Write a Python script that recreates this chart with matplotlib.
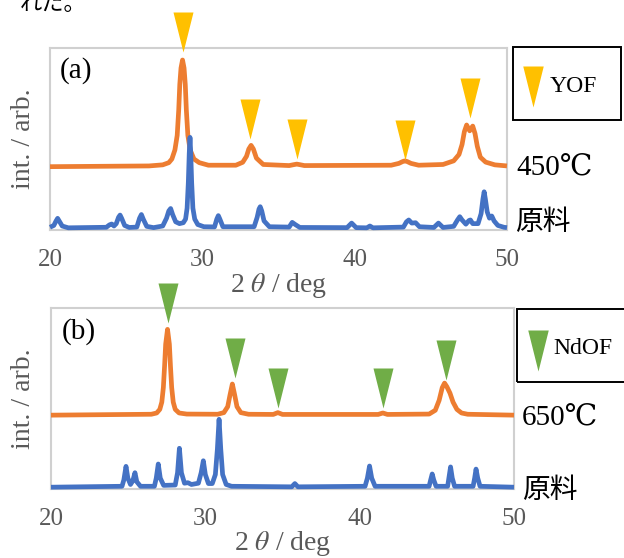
import matplotlib
matplotlib.use("Agg")
import matplotlib.pyplot as plt
from matplotlib.path import Path
from matplotlib.lines import Line2D
from matplotlib.patches import Rectangle

plt.rcParams["mathtext.fontset"] = "stix"

# ---------------- data ----------------
ticks = [20, 30, 40, 50]

# panel (a)  YOF / 450C   (2theta, intensity)
orange_a = [(20.0, 34.8), (26.5, 35.2), (27.4, 35.8), (27.8, 37.0), (28.0, 39.0),
            (28.2, 44), (28.35, 52), (28.45, 66), (28.52, 80), (28.6, 89),
            (28.7, 93.4), (28.8, 89), (28.88, 80), (28.95, 66), (29.05, 52),
            (29.2, 44), (29.45, 39), (29.8, 37), (30.4, 35.6), (32.2, 35.6),
            (32.65, 37.2), (32.9, 40.5), (33.05, 44.5), (33.2, 46.5), (33.35, 44.5),
            (33.55, 39.5), (34.0, 36.0), (35.7, 35.4), (36.0, 35.9), (36.2, 36.2),
            (36.4, 35.9), (36.7, 35.4), (42.4, 35.6), (42.9, 36.6), (43.15, 37.6),
            (43.3, 38.0), (43.45, 37.6), (43.7, 36.6), (44.2, 35.6), (45.8, 36.0),
            (46.5, 38.0), (46.85, 41.5), (47.05, 47), (47.2, 54), (47.35, 57.7),
            (47.55, 54.5), (47.75, 57.1), (47.9, 53), (48.05, 46), (48.25, 40),
            (48.6, 37.3), (49.2, 35.8), (50.0, 35.2)]

blue_a = [(20.0, 1.5), (20.25, 2.5), (20.4, 5), (20.5, 6.4), (20.6, 5),
          (20.8, 2.2), (21.2, 1.2), (23.7, 1.5), (23.9, 2.8), (24.05, 3.3),
          (24.2, 2.2), (24.35, 3.5), (24.5, 7), (24.6, 8.2), (24.7, 6.5),
          (24.9, 2.5), (25.2, 1.4), (25.7, 1.6), (25.88, 6.5), (26.0, 8.5),
          (26.12, 6), (26.35, 2), (26.8, 1.3), (27.4, 2.2), (27.65, 6.5),
          (27.8, 10.5), (27.92, 11.8), (28.05, 8.5), (28.25, 4.5), (28.5, 3.5),
          (28.75, 4), (28.9, 6), (29.0, 12), (29.08, 26), (29.14, 42),
          (29.19, 50.9), (29.24, 42), (29.3, 26), (29.38, 12), (29.5, 6),
          (29.7, 3), (30.1, 1.8), (30.8, 1.7), (30.95, 6), (31.05, 7.9),
          (31.15, 6), (31.35, 1.8), (33.4, 1.8), (33.6, 7), (33.72, 11.5),
          (33.8, 12.8), (33.9, 10.5), (34.05, 5), (34.4, 1.8), (35.7, 1.6),
          (35.9, 4.2), (36.1, 3), (36.4, 1.4), (39.5, 1.3), (39.8, 3.8),
          (40.1, 1.3), (40.8, 1.2), (41.0, 2.2), (41.2, 1.2), (43.2, 1.6),
          (43.4, 4.5), (43.55, 5.5), (43.75, 3.8), (44.0, 4.0), (44.25, 1.8),
          (45.2, 1.4), (45.5, 3.8), (45.8, 1.4), (46.5, 2), (46.75, 5.5),
          (46.9, 7.3), (47.05, 5.5), (47.3, 3.2), (47.5, 5.2), (47.6, 5.5),
          (47.75, 3.5), (48.1, 3.5), (48.3, 9), (48.42, 17), (48.5, 21),
          (48.58, 17), (48.7, 10), (48.85, 6.5), (49.0, 7.7), (49.15, 5),
          (49.4, 2.5), (49.8, 1.5), (50.0, 1.3)]

tri_x_a = [28.7, 33.1, 36.2, 43.3, 47.6]
tri_y_a = [97.8, 50.0, 39.0, 38.5, 61.5]

# panel (b)  NdOF / 650C
orange_b = [(20.0, 40.8), (26.5, 41.3), (26.85, 42), (27.05, 44), (27.18, 48),
            (27.28, 56), (27.36, 68), (27.43, 80), (27.55, 88.2), (27.67, 80),
            (27.74, 68), (27.82, 56), (27.92, 48), (28.05, 44), (28.3, 42),
            (28.8, 41.4), (30.8, 41.3), (31.2, 42.2), (31.45, 45.5), (31.6, 52),
            (31.75, 58), (31.9, 52), (32.05, 45.5), (32.3, 42.2), (32.8, 41.3),
            (34.4, 41.2), (34.7, 42.2), (35.0, 41.2), (41.2, 41.2), (41.5, 42.0),
            (41.8, 41.2), (44.5, 41.4), (44.9, 43.5), (45.15, 49), (45.35, 56),
            (45.5, 58.5), (45.65, 56.5), (45.85, 53), (46.05, 48), (46.3, 44),
            (46.6, 42), (47.0, 41.3), (50.0, 40.8)]

blue_b = [(20.0, 1.0), (24.6, 1.5), (24.72, 5), (24.86, 12.5), (24.98, 6),
          (25.15, 2.5), (25.3, 4.5), (25.44, 9), (25.56, 4), (25.8, 1.5),
          (26.7, 1.5), (26.82, 6), (26.95, 13.8), (27.08, 6), (27.3, 2),
          (28.05, 2.2), (28.2, 9), (28.32, 22.5), (28.45, 9), (28.65, 3.2),
          (28.87, 3.5), (29.1, 2.5), (29.55, 3.2), (29.73, 9), (29.87, 15.6),
          (30.0, 8), (30.2, 3), (30.45, 3), (30.65, 8), (30.78, 22),
          (30.89, 38.5), (31.0, 22), (31.12, 8), (31.35, 2.5), (31.7, 1.5),
          (35.6, 1.2), (35.8, 3.0), (36.0, 1.2), (40.35, 1.5), (40.5, 6),
          (40.64, 12.7), (40.78, 6), (41.0, 1.5), (44.5, 1.5), (44.6, 5),
          (44.7, 8.3), (44.8, 5), (44.95, 1.5), (45.7, 1.5), (45.78, 6),
          (45.89, 12.2), (46.0, 6), (46.15, 1.5), (47.35, 1.5), (47.45, 6),
          (47.54, 11), (47.65, 6), (47.8, 1.5), (50.0, 1.0)]

tri_x_b = [27.6, 31.9, 34.7, 41.5, 45.6]
tri_y_b = [91.7, 61.3, 44.7, 44.7, 60.2]

# ---------------- style ----------------
W, H = 624, 558
ORANGE = "#ED7D31"
BLUE = "#4472C4"
YELLOW = "#FFC000"
GREEN = "#70AD47"
GRAY = "#595959"
SPINE = "#D0D0D0"
SERIF = ["Liberation Serif", "DejaVu Serif"]
MIX = ["Liberation Serif", "DejaVu Serif", "Noto Sans CJK JP"]
CJK = ["Noto Sans CJK JP", "DejaVu Sans"]
LW = 3.4

tri_path = Path([(-0.25, 1.0), (0.25, 1.0), (0.0, 0.0), (-0.25, 1.0)],
                [Path.MOVETO, Path.LINETO, Path.LINETO, Path.CLOSEPOLY])
TRI_MS = 57.6


def px_rect(l, t, r, b):
    return [l / W, 1 - b / H, (r - l) / W, (b - t) / H]


fig = plt.figure(figsize=(W / 100, H / 100), dpi=100)

# body text of the page, clipped at the very top
fig.text(20 / W, 1 - 10 / H, "れた。", family=CJK, fontsize=16,
         ha="left", va="baseline", color="black")


def make_panel(rect, orange, blue, tx, ty, tcolor, h_px):
    ax = fig.add_axes(rect)
    xo, yo = zip(*orange)
    xb, yb = zip(*blue)
    ax.plot(xo, yo, color=ORANGE, lw=LW, solid_joinstyle="round",
            solid_capstyle="butt", clip_on=False, zorder=3)
    ax.plot(xb, yb, color=BLUE, lw=LW, solid_joinstyle="round",
            solid_capstyle="butt", clip_on=False, zorder=3)
    ax.plot(tx, ty, linestyle="none", marker=tri_path, markersize=TRI_MS,
            markerfacecolor=tcolor, markeredgecolor="none", clip_on=False,
            zorder=4)
    ax.set_xlim(20, 50)
    ax.set_ylim(0, 100)
    ax.set_xticks(ticks)
    ax.set_xticklabels([str(t) for t in ticks], family=SERIF)
    ax.set_yticks([])
    ax.tick_params(axis="x", length=0, pad=14, labelsize=18, labelcolor=GRAY)
    for s in ax.spines.values():
        s.set_color(SPINE)
        s.set_linewidth(1.5)
    ax.set_xlabel(r"2 $\mathit{\theta}$ / deg", family=SERIF, fontsize=20,
                  color=GRAY)
    ax.xaxis.set_label_coords(0.5, -55 / h_px)
    ax.xaxis.label.set_va("center")
    ax.set_ylabel("int. / arb.", family=SERIF, fontsize=20, color=GRAY)
    ax.yaxis.set_label_coords(-27 / (rect[2] * W), 0.5)
    ax.yaxis.label.set_va("center")
    return ax


ax_a = make_panel(px_rect(50, 48, 507, 230), orange_a, blue_a,
                  tri_x_a, tri_y_a, YELLOW, 182)
ax_b = make_panel(px_rect(51, 308, 514, 489), orange_b, blue_b,
                  tri_x_b, tri_y_b, GREEN, 181)

# panel tags
fig.text(60 / W, 1 - 71 / H, "(a)", family=SERIF, fontsize=21,
         ha="left", va="center", color="black")
fig.text(62 / W, 1 - 332 / H, "(b)", family=SERIF, fontsize=21,
         ha="left", va="center", color="black")

# right-hand series labels
fig.text(516 / W, 1 - 168 / H, "450℃", family=MIX, fontsize=21,
         ha="left", va="center", color="black")
fig.text(515 / W, 1 - 222 / H, "原料", family=CJK, fontsize=20,
         ha="left", va="center", color="black")
fig.text(522 / W, 1 - 418 / H, "650℃", family=MIX, fontsize=21,
         ha="left", va="center", color="black")
fig.text(522 / W, 1 - 490 / H, "原料", family=CJK, fontsize=20,
         ha="left", va="center", color="black")


# legend boxes
def legend_box(l, t, r, b, tip_x, tip_y, tcolor, label, text_x, text_y):
    fig.patches.append(Rectangle((l / W, 1 - b / H), (r - l) / W, (b - t) / H,
                                 transform=fig.transFigure, fill=False,
                                 edgecolor="black", linewidth=1.4))
    fig.lines.append(Line2D([tip_x / W], [1 - tip_y / H],
                            transform=fig.transFigure, linestyle="none",
                            marker=tri_path, markersize=TRI_MS * 41 / 40,
                            markerfacecolor=tcolor, markeredgecolor="none"))
    fig.text(text_x / W, 1 - text_y / H, label, family=SERIF, fontsize=17,
             ha="left", va="center", color="black")


legend_box(513, 47, 621, 120, 532.5, 107, YELLOW, "YOF", 550, 87)
legend_box(517, 309, 640, 382, 537.5, 371, GREEN, "NdOF", 553, 348)

fig.savefig("out.png", dpi=100)
